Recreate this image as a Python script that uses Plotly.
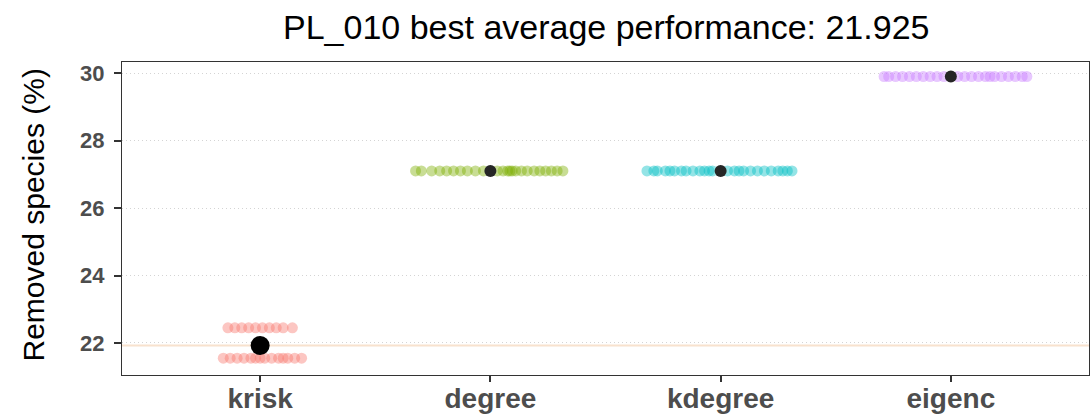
import plotly.graph_objects as go

# Heuristics compared on network PL_010
methods = ["krisk", "degree", "kdegree", "eigenc"]
colors = ["#F8766D", "#7CAE00", "#00BFC4", "#C77CFF"]

# Removed species (%) per run, one list per heuristic
krisk_vals = [22.45] * 10 + [21.55] * 14
degree_vals = [27.1] * 24
kdegree_vals = [27.1] * 25
eigenc_vals = [29.9] * 22

# Horizontal jitter offsets (in category units) for each run
krisk_jit = [-0.14, -0.11, -0.08, -0.05, -0.02, 0.01, 0.04, 0.07, 0.10, 0.14,
             -0.16, -0.13, -0.10, -0.07, -0.04, -0.02, 0.0, 0.02, 0.05, 0.08,
             0.10, 0.12, 0.15, 0.18]
degree_jit = [-0.325, -0.30, -0.255, -0.22, -0.19, -0.16, -0.13, -0.10, -0.065,
              -0.03, 0.03, 0.055, 0.075, 0.085, 0.095, 0.11, 0.135, 0.16, 0.19,
              0.215, 0.24, 0.265, 0.29, 0.315]
kdegree_jit = [-0.32, -0.29, -0.275, -0.24, -0.22, -0.20, -0.17, -0.15, -0.12,
               -0.09, -0.07, -0.05, -0.035, 0.03, 0.06, 0.08, 0.10, 0.13, 0.16,
               0.19, 0.22, 0.25, 0.27, 0.29, 0.31]
eigenc_jit = [-0.29, -0.27, -0.24, -0.21, -0.18, -0.15, -0.12, -0.09, -0.06,
              -0.03, 0.03, 0.06, 0.09, 0.12, 0.15, 0.17, 0.19, 0.22, 0.25, 0.28,
              0.31, 0.33]

values = [krisk_vals, degree_vals, kdegree_vals, eigenc_vals]
jitters = [krisk_jit, degree_jit, kdegree_jit, eigenc_jit]

y_ticks = [22, 24, 26, 28, 30]

means = [sum(v) / len(v) for v in values]
best = min(means)

FONT = "Liberation Sans, Arial, sans-serif"
fig = go.Figure()

# Best average shown as a reference line behind the points
fig.add_shape(type="line", xref="paper", x0=0, x1=1, yref="y", y0=best, y1=best,
              line=dict(color="#F8E2CE", width=2), layer="below")

for i, (name, vals, jit, col) in enumerate(zip(methods, values, jitters, colors)):
    fig.add_trace(go.Scatter(
        x=[i + j for j in jit], y=vals, mode="markers",
        marker=dict(color=col, size=11, opacity=0.42, line=dict(width=0)),
        hoverinfo="skip", showlegend=False,
    ))

# Group means; the best heuristic gets a bigger, black marker
for i, m in enumerate(means):
    is_best = m == best
    fig.add_trace(go.Scatter(
        x=[i], y=[m], mode="markers",
        marker=dict(color="#000000" if is_best else "#262626",
                    size=19 if is_best else 12, line=dict(width=0)),
        showlegend=False,
    ))

fig.update_layout(
    width=1090, height=417,
    margin=dict(l=122, r=1, t=62, b=42, autoexpand=False),
    paper_bgcolor="white", plot_bgcolor="white",
    font=dict(family=FONT, color="#000000"),
    annotations=[
        dict(text=f"PL_010 best average performance: {best:.3f}",
             xref="paper", yref="paper", x=0.5, y=1, yshift=35,
             xanchor="center", yanchor="middle", showarrow=False,
             font=dict(size=34, color="#000000", family=FONT)),
        dict(text="Removed species (%)", xref="paper", yref="paper",
             x=0, xshift=-89, y=0.5, yshift=3, textangle=-90,
             xanchor="center", yanchor="middle", showarrow=False,
             font=dict(size=30, color="#000000", family=FONT)),
    ],
)

fig.update_xaxes(
    range=[-0.6, 3.6], tickmode="array", tickvals=list(range(len(methods))),
    ticktext=[f"<b>{m}</b>" for m in methods],
    tickfont=dict(size=28, color="#4D4D4D", family=FONT),
    ticks="outside", ticklen=6, tickwidth=1.5, tickcolor="#333333",
    ticklabelstandoff=-8,
    showgrid=False, zeroline=False, automargin=False,
    showline=True, mirror=True, linecolor="#333333", linewidth=1.2,
)
fig.update_yaxes(
    range=[21.05, 30.33], tickmode="array", tickvals=y_ticks,
    ticktext=[f"<b>{t}</b>" for t in y_ticks],
    tickfont=dict(size=22, color="#4D4D4D", family=FONT),
    ticks="outside", ticklen=7, tickwidth=1.5, tickcolor="#333333",
    ticklabelstandoff=5,
    showgrid=True, gridcolor="#D4D4D4", gridwidth=1, griddash="1px,3px",
    zeroline=False, automargin=False,
    showline=True, mirror=True, linecolor="#333333", linewidth=1.2,
)

fig.write_html("out.html")
